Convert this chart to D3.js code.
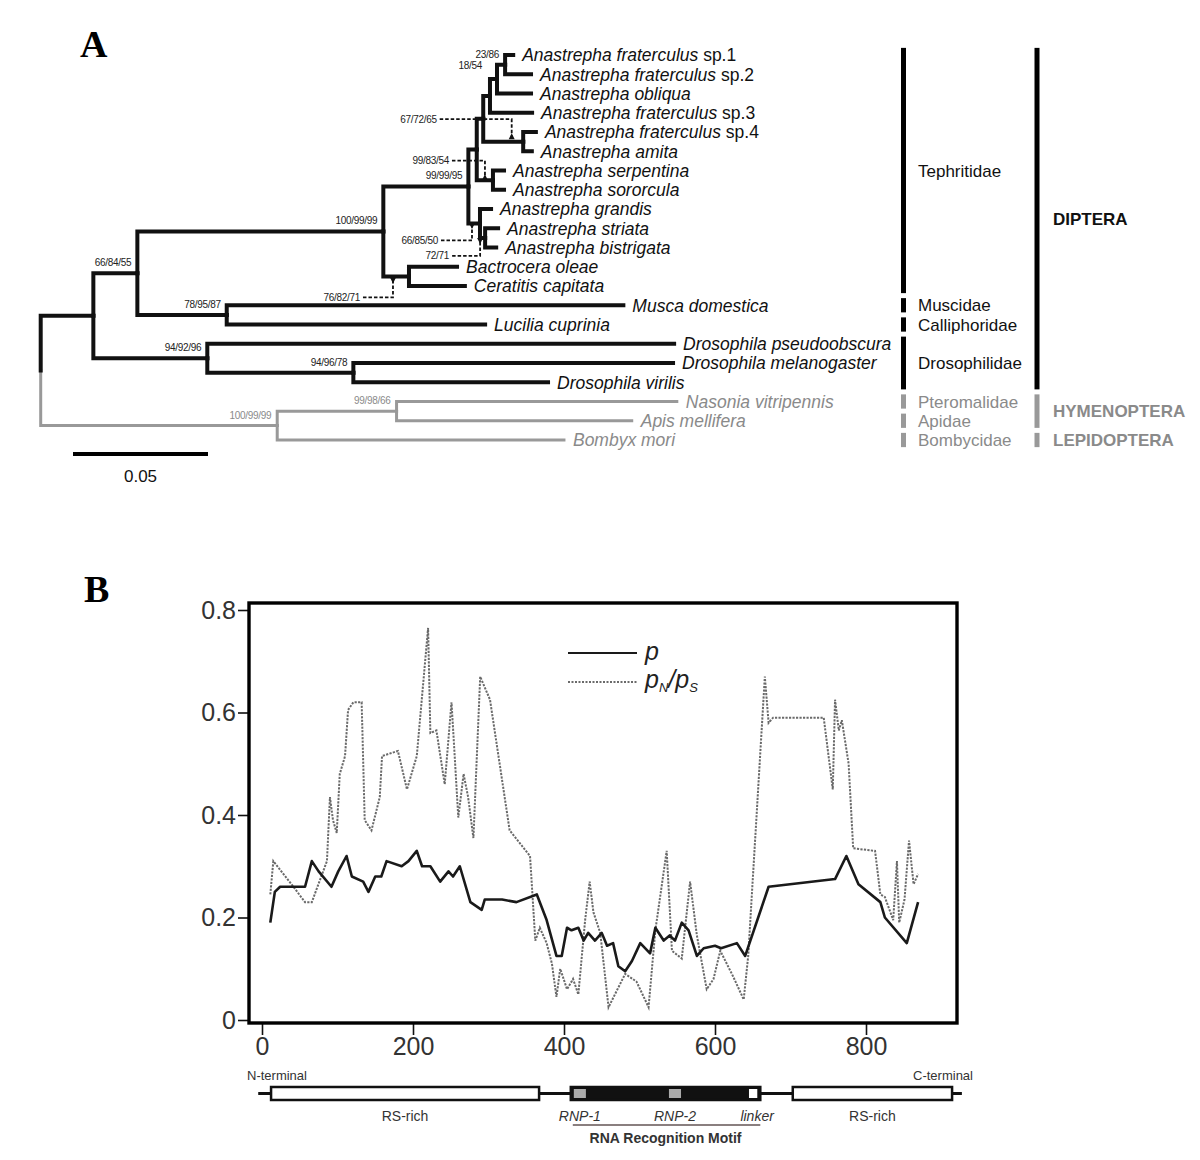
<!DOCTYPE html>
<html><head><meta charset="utf-8">
<script src="https://cdn.jsdelivr.net/npm/d3@7"></script>
<style>
body{margin:0;background:#fff;}
svg{display:block;font-family:"Liberation Sans",Arial,Helvetica,sans-serif;}
</style></head><body>
<svg id="fig" width="1200" height="1160"></svg>
<script>
// ---------------- DATA: panel A (phylogeny) ----------------
const tipNames = [
  "Anastrepha fraterculus sp.1","Anastrepha fraterculus sp.2","Anastrepha obliqua",
  "Anastrepha fraterculus sp.3","Anastrepha fraterculus sp.4","Anastrepha amita",
  "Anastrepha serpentina","Anastrepha sororcula","Anastrepha grandis",
  "Anastrepha striata","Anastrepha bistrigata","Bactrocera oleae","Ceratitis capitata",
  "Musca domestica","Lucilia cuprinia","Drosophila pseudoobscura",
  "Drosophila melanogaster","Drosophila virilis","Nasonia vitripennis",
  "Apis mellifera","Bombyx mori"
];
// [node, parent, branch length (subst./site)]
const treeEdges = [
  ["root", null, 0],
  ["Dip","root",0.0195], ["HL","root",0.0876],
  ["Bra","Dip",0.0163], ["Dros","Dip",0.0422],
  ["Teph","Bra",0.0911], ["ML","Bra",0.0331],
  ["Musca domestica","ML",0.1469], ["Lucilia cuprinia","ML",0.0957],
  ["Drosophila pseudoobscura","Dros",0.1729], ["MV","Dros",0.0541],
  ["Drosophila melanogaster","MV",0.1184], ["Drosophila virilis","MV",0.0721],
  ["NA","HL",0.0442], ["Bombyx mori","HL",0.1062],
  ["Nasonia vitripennis","NA",0.1038], ["Apis mellifera","NA",0.0871],
  ["Anas","Teph",0.0315], ["BC","Teph",0.0095],
  ["Bactrocera oleae","BC",0.0178], ["Ceratitis capitata","BC",0.0207],
  ["A2","Anas",0.0031], ["Gr","Anas",0.0043],
  ["A1","A2",0.0024], ["Serp","A2",0.0060],
  ["Anastrepha serpentina","Serp",0.0041], ["Anastrepha sororcula","Serp",0.0041],
  ["Sp3n","A1",0.0025], ["Sp4Am","A1",0.0148],
  ["Anastrepha fraterculus sp.4","Sp4Am",0.0047], ["Anastrepha amita","Sp4Am",0.0032],
  ["Obl","Sp3n",0.0026], ["Anastrepha fraterculus sp.3","Sp3n",0.0156],
  ["Sp12","Obl",0.0030], ["Anastrepha obliqua","Obl",0.0126],
  ["Anastrepha fraterculus sp.1","Sp12",0.0030], ["Anastrepha fraterculus sp.2","Sp12",0.0096],
  ["Str","Gr",0.0019], ["Anastrepha grandis","Gr",0.0041],
  ["Anastrepha striata","Str",0.0048], ["Anastrepha bistrigata","Str",0.0041]
];
const outgroupClade = "HL";
const supportNodes  = ["Sp12","Obl","Sp4Am","Serp","Anas","Gr","Str","Teph","BC","Bra","ML","Dros","MV","HL","NA"];
const supportValues = ["23/86","18/54","67/72/65","99/83/54","99/99/95","66/85/50","72/71","100/99/99","76/82/71","66/84/55","78/95/87","94/92/96","94/96/78","100/99/99","99/98/66"];
const familyNames = ["Tephritidae","Muscidae","Calliphoridae","Drosophilidae","Pteromalidae","Apidae","Bombycidae"];
const familyFirst = ["Anastrepha fraterculus sp.1","Musca domestica","Lucilia cuprinia","Drosophila pseudoobscura","Nasonia vitripennis","Apis mellifera","Bombyx mori"];
const familyLast  = ["Ceratitis capitata","Musca domestica","Lucilia cuprinia","Drosophila virilis","Nasonia vitripennis","Apis mellifera","Bombyx mori"];
const orderNames = ["DIPTERA","HYMENOPTERA","LEPIDOPTERA"];
const orderFirst = ["Anastrepha fraterculus sp.1","Nasonia vitripennis","Bombyx mori"];
const orderLast  = ["Drosophila virilis","Apis mellifera","Bombyx mori"];
const outgroupTaxa = ["Pteromalidae","Apidae","Bombycidae","HYMENOPTERA","LEPIDOPTERA"];
const scaleBarValue = 0.05;

// ---------------- DATA: panel B ----------------
const pPos = [11,17,24,57,66,75,92,101,112,119,134,141,150,158,165,185,194,205,212,223,236,247,253,262,276,291,295,318,337,364,377,390,397,404,410,419,426,432,441,450,457,465,472,481,490,501,514,521,532,540,547,556,565,576,585,600,608,629,640,671,759,774,790,819,825,854,869];
const pVal = [0.19,0.25,0.26,0.26,0.31,0.29,0.26,0.29,0.32,0.28,0.27,0.25,0.28,0.28,0.31,0.30,0.31,0.33,0.30,0.30,0.27,0.29,0.28,0.30,0.23,0.215,0.235,0.235,0.23,0.245,0.195,0.125,0.125,0.18,0.175,0.18,0.155,0.17,0.155,0.17,0.145,0.15,0.105,0.095,0.115,0.15,0.13,0.18,0.155,0.165,0.155,0.19,0.175,0.125,0.14,0.145,0.14,0.15,0.125,0.26,0.275,0.32,0.265,0.23,0.2,0.15,0.23];
const ratioPos = [11,15,39,57,66,86,90,94,99,103,110,114,121,132,136,145,156,159,180,192,205,220,223,231,242,251,260,267,273,280,289,302,328,355,362,368,377,384,390,395,404,412,419,428,434,439,448,459,481,496,512,521,536,543,556,567,576,589,598,607,624,638,644,666,671,677,744,756,759,764,768,777,783,812,819,825,836,841,844,851,857,863,869];
const ratioVal = [0.245,0.31,0.265,0.23,0.23,0.31,0.435,0.39,0.365,0.48,0.515,0.605,0.62,0.62,0.39,0.37,0.435,0.515,0.525,0.45,0.515,0.765,0.56,0.565,0.46,0.62,0.395,0.48,0.435,0.355,0.67,0.625,0.37,0.32,0.155,0.18,0.15,0.11,0.045,0.1,0.06,0.08,0.05,0.195,0.27,0.21,0.17,0.025,0.09,0.075,0.025,0.175,0.33,0.135,0.12,0.27,0.165,0.06,0.08,0.135,0.085,0.04,0.125,0.67,0.58,0.59,0.59,0.45,0.625,0.565,0.585,0.5,0.335,0.33,0.245,0.24,0.195,0.31,0.19,0.235,0.35,0.265,0.285];
const xTicks = [0,200,400,600,800];
const yTicks = [0,0.2,0.4,0.6,0.8];
const domainNames  = ["RS-rich","RNA Recognition Motif","RS-rich"];
const domainStart  = [12,409,703];
const domainEnd    = [367,660,914];
const motifNames   = ["RNP-1","RNP-2","linker"];
const motifStart   = [413,539,645];
const motifEnd     = [429,555,656];
const proteinExtent = [-5,927];

// ---------------- DRAW ----------------
const svg = d3.select("#fig");
const BLACK = "#111", GREY = "#999", GREYTXT = "#8a8a8a";
const serif = "'Liberation Serif','Times New Roman',serif";

svg.append("text").attr("x",80).attr("y",57).attr("font-family",serif).attr("font-weight","bold")
  .attr("font-size",38).attr("fill","#000").text("A");
svg.append("text").attr("x",84).attr("y",602).attr("font-family",serif).attr("font-weight","bold")
  .attr("font-size",38).attr("fill","#000").text("B");

// ---- tree ----
const root = d3.stratify().id(d=>d[0]).parentId(d=>d[1])(treeEdges);
root.eachBefore(n => { n.L = n.parent ? n.parent.L + n.data[2] : 0; });
const xT = d3.scaleLinear().domain([0, scaleBarValue]).range([40.7, 175.7]);
const yT = d3.scalePoint().domain(tipNames).range([55, 440]);
const step = yT.step();
root.eachAfter(n => {
  if (!n.children) n.py = yT(n.id);
  else { const ys = n.children.map(c=>c.py); n.py = (d3.min(ys)+d3.max(ys))/2; }
});
const outSet = new Set(root.find(n=>n.id===outgroupClade).descendants().map(n=>n.id));
const isOut = n => outSet.has(n.id);
const nodeById = new Map(root.descendants().map(n=>[n.id,n]));

const gT = svg.append("g");
const links = root.descendants().filter(n=>n.parent).sort((a,b)=>(isOut(b)?1:0)-(isOut(a)?1:0));
gT.selectAll("path.br").data(links).join("path").attr("class","br")
  .attr("d", n => `M${xT(n.parent.L)},${n.parent.py}V${n.py}H${xT(n.L)}`)
  .attr("fill","none")
  .attr("stroke", n => isOut(n) ? GREY : BLACK)
  .attr("stroke-width", n => isOut(n) ? 3 : 4)
  .attr("stroke-linecap","square");

// tip labels
const tips = root.leaves();
const tl = gT.selectAll("text.tip").data(tips).join("text").attr("class","tip")
  .attr("x", n => xT(n.L) + 9).attr("y", n => n.py).attr("dy","0.36em")
  .attr("font-size", 17.5).attr("fill", n => isOut(n) ? GREYTXT : BLACK);
tl.each(function(n){
  const m = n.id.match(/^(.*) (sp\.\d)$/);
  const t = d3.select(this);
  if (m) {
    t.append("tspan").attr("font-style","italic").text(m[1] + " ");
    t.append("tspan").text(m[2]);
  } else t.append("tspan").attr("font-style","italic").text(n.id);
});

// support values
const callouts = {
  Sp4Am:{dx:-11.5, dir:-1, reach:22.5, tip:8.5, len:72},
  Serp: {dx:-8,    dir:-1, reach:19.5, tip:6,   len:33},
  Gr:   {dx:-8,    dir: 1, reach:17,   tip:5.5, len:31},
  Str:  {dx:-5,    dir: 1, reach:18,   tip:6,   len:28},
  BC:   {dx:-16,   dir: 1, reach:21,   tip:7,   len:30}
};
const labelShift = { Obl:{dx:-15, dy:-10} };
supportNodes.forEach((id,i) => {
  const n = nodeById.get(id);
  const nx = xT(n.L), ny = n.py;
  const col = isOut(n) ? GREYTXT : "#222";
  const c = callouts[id];
  if (c) {
    const ax = nx + c.dx, yl = ny + c.dir*c.reach, yt = ny + c.dir*c.tip;
    gT.append("path").attr("d", `M${ax - c.len},${yl}H${ax}V${yt - c.dir*5}`)
      .attr("fill","none").attr("stroke","#111").attr("stroke-width",1.8).attr("stroke-dasharray","3.5,2");
    gT.append("path").attr("d", `M${ax},${yt}L${ax-3},${yt - c.dir*6}L${ax+3},${yt - c.dir*6}Z`).attr("fill","#111");
    gT.append("text").attr("x", ax - c.len - 3).attr("y", yl).attr("dy","0.35em")
      .attr("text-anchor","end").attr("font-size",10).attr("fill",col).attr("letter-spacing",-0.3).text(supportValues[i]);
  } else {
    const s = labelShift[id] || {dx:-6, dy:-7};
    gT.append("text").attr("x", nx + s.dx).attr("y", ny + s.dy)
      .attr("text-anchor","end").attr("font-size",10).attr("fill",col).attr("letter-spacing",-0.3).text(supportValues[i]);
  }
});

// scale bar
const sbX0 = 73, sbLen = xT(scaleBarValue) - xT(0);
gT.append("line").attr("x1",sbX0).attr("x2",sbX0+sbLen).attr("y1",454).attr("y2",454)
  .attr("stroke","#000").attr("stroke-width",4);
gT.append("text").attr("x", sbX0+sbLen/2).attr("y",482).attr("text-anchor","middle")
  .attr("font-size",17).attr("fill","#111").text(String(scaleBarValue));

// family / order bars
function bracket(names, first, last, bx, tx, bold) {
  names.forEach((nm,i) => {
    const y0 = yT(first[i]) - step/2 + 2.5, y1 = yT(last[i]) + step/2 - 2.5;
    const out = outgroupTaxa.includes(nm);
    gT.append("rect").attr("x",bx).attr("y",y0).attr("width",5).attr("height",y1-y0)
      .attr("fill", out ? GREY : "#000");
    gT.append("text").attr("x",tx).attr("y",(y0+y1)/2).attr("dy","0.36em")
      .attr("font-size",17).attr("font-weight", bold ? "bold" : "normal")
      .attr("fill", out ? GREYTXT : "#111").text(nm);
  });
}
bracket(familyNames, familyFirst, familyLast, 901, 918, false);
bracket(orderNames, orderFirst, orderLast, 1034.5, 1053, true);

// ---- panel B ----
const frame = {left:249, top:603, right:957, bottom:1023};
const xB = d3.scaleLinear().domain([0,800]).range([262,866]);
const yB = d3.scaleLinear().domain([0,0.8]).range([1020,610]);
const gB = svg.append("g");

const ratioLine = d3.line().x((d,i)=>xB(ratioPos[i])).y((d,i)=>yB(ratioVal[i]));
gB.append("path").attr("d", ratioLine(ratioPos)).attr("fill","none").attr("stroke","#6a6a6a")
  .attr("stroke-width",2).attr("stroke-dasharray","2.2,1.3");
const pLine = d3.line().x((d,i)=>xB(pPos[i])).y((d,i)=>yB(pVal[i]));
gB.append("path").attr("d", pLine(pPos)).attr("fill","none").attr("stroke","#1a1a1a")
  .attr("stroke-width",2.6).attr("stroke-linejoin","round");

const xAx = gB.append("g").attr("transform",`translate(0,${frame.bottom})`)
  .call(d3.axisBottom(xB).tickValues(xTicks).tickSize(12).tickPadding(2).tickSizeOuter(0));
const yAx = gB.append("g").attr("transform",`translate(${frame.left},0)`)
  .call(d3.axisLeft(yB).tickValues(yTicks).tickSize(11).tickPadding(2).tickSizeOuter(0)
    .tickFormat(d => d === 0 ? "0" : d3.format(".1f")(d)));
[xAx,yAx].forEach(a => {
  a.select(".domain").remove();
  a.selectAll(".tick line").attr("stroke","#111").attr("stroke-width",1.6);
  a.selectAll(".tick text").attr("font-size",25).attr("fill","#333")
    .attr("font-family",'"Liberation Sans",Arial,sans-serif');
});
gB.append("rect").attr("x",frame.left).attr("y",frame.top)
  .attr("width",frame.right-frame.left).attr("height",frame.bottom-frame.top)
  .attr("fill","none").attr("stroke","#000").attr("stroke-width",3.4);

// legend
gB.append("line").attr("x1",568).attr("x2",637).attr("y1",653).attr("y2",653)
  .attr("stroke","#1a1a1a").attr("stroke-width",2.2);
gB.append("text").attr("x",645).attr("y",660).attr("font-size",25).attr("font-style","italic")
  .attr("fill","#222").text("p");
gB.append("line").attr("x1",568).attr("x2",637).attr("y1",682).attr("y2",682)
  .attr("stroke","#6a6a6a").attr("stroke-width",1.8).attr("stroke-dasharray","2,1.5");
const lg = gB.append("text").attr("x",645).attr("y",688).attr("font-size",25)
  .attr("font-style","italic").attr("fill","#222");
lg.append("tspan").text("p");
lg.append("tspan").attr("font-size",13).attr("dy",4).text("N");
lg.append("tspan").attr("dy",-4).text("/p");
lg.append("tspan").attr("font-size",13).attr("dy",4).text("S");

// domain diagram
const yD = 1093.5;
const gD = svg.append("g");
gD.append("line").attr("x1",xB(proteinExtent[0])).attr("x2",xB(proteinExtent[1]))
  .attr("y1",yD).attr("y2",yD).attr("stroke","#111").attr("stroke-width",3);
gD.selectAll("rect.dom").data(domainNames).join("rect").attr("class","dom")
  .attr("x",(d,i)=>xB(domainStart[i])).attr("width",(d,i)=>xB(domainEnd[i])-xB(domainStart[i]))
  .attr("y",yD-6.5).attr("height",13)
  .attr("fill",d => d==="RS-rich" ? "#fff" : "#111").attr("stroke","#111").attr("stroke-width",2.5);
gD.selectAll("rect.mot").data(motifNames).join("rect").attr("class","mot")
  .attr("x",(d,i)=>xB(motifStart[i])).attr("width",(d,i)=>xB(motifEnd[i])-xB(motifStart[i]))
  .attr("y",yD-4.5).attr("height",9)
  .attr("fill",d => d==="linker" ? "#fff" : "#aaa");
gD.selectAll("text.dom").data(domainNames.filter(d=>d==="RS-rich")).join("text").attr("class","dom")
  .attr("x",(d,i)=>{const k=[0,2][i]; return (xB(domainStart[k])+xB(domainEnd[k]))/2;})
  .attr("y",1121).attr("text-anchor","middle").attr("font-size",14).attr("fill","#333").text(d=>d);
gD.selectAll("text.mot").data(motifNames).join("text").attr("class","mot")
  .attr("x",(d,i)=>(xB(motifStart[i])+xB(motifEnd[i]))/2 + (i===2?4:0))
  .attr("y",1121).attr("text-anchor","middle").attr("font-size",14).attr("font-style","italic")
  .attr("fill","#333").text(d=>d);
gD.append("line").attr("x1",xB(domainStart[1])+2).attr("x2",xB(domainEnd[1])).attr("y1",1125).attr("y2",1125)
  .attr("stroke","#8a7f7f").attr("stroke-width",2);
gD.append("text").attr("x",(xB(domainStart[1])+xB(domainEnd[1]))/2).attr("y",1143)
  .attr("text-anchor","middle").attr("font-size",14).attr("font-weight","bold").attr("fill","#333")
  .text(domainNames[1]);
gD.append("text").attr("x",247).attr("y",1080).attr("font-size",13).attr("fill","#333").text("N-terminal");
gD.append("text").attr("x",973).attr("y",1080).attr("text-anchor","end").attr("font-size",13).attr("fill","#333").text("C-terminal");
</script>
</body></html>
